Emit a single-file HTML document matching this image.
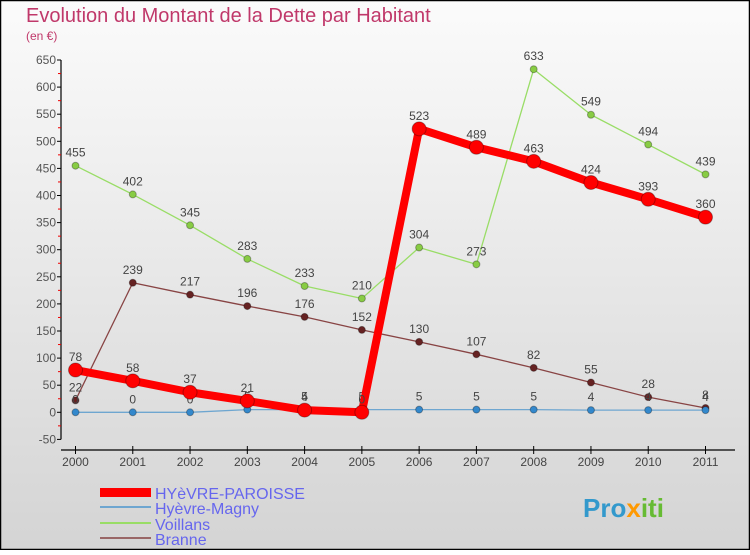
<!DOCTYPE html>
<html><head><meta charset="utf-8"><style>
html,body{margin:0;padding:0}
body{width:750px;height:550px;overflow:hidden;font-family:"Liberation Sans",sans-serif}
</style></head><body>
<svg id="chart" width="750" height="550" xmlns="http://www.w3.org/2000/svg" font-family="Liberation Sans, sans-serif">
<defs><linearGradient id="bg" x1="0" y1="0" x2="0" y2="1"><stop offset="0" stop-color="#fbfbfb"/><stop offset="1" stop-color="#d4d4d4"/></linearGradient></defs>
<rect x="0.5" y="0.5" width="749" height="549" fill="url(#bg)" stroke="#000" stroke-width="1.5"/>
<text x="26" y="22" font-size="20" fill="#c0386a">Evolution du Montant de la Dette par Habitant</text>
<text x="26" y="40" font-size="12" fill="#c0386a">(en €)</text>
<g id="axes"></g><g id="series"></g>
<g>
<rect x="100" y="488" width="51" height="9" fill="#f00"/>
<text x="155" y="499" font-size="16" fill="#6666ee">HYèVRE-PAROISSE</text>
<rect x="100" y="506" width="51" height="2" fill="#6ea6d0"/>
<text x="155" y="514" font-size="16" fill="#6666ee">Hyèvre-Magny</text>
<rect x="100" y="522" width="51" height="2" fill="#99dd66"/>
<text x="155" y="530" font-size="16" fill="#6666ee">Voillans</text>
<rect x="100" y="537" width="51" height="2" fill="#996666"/>
<text x="155" y="545" font-size="16" fill="#6666ee">Branne</text>
</g>
<text x="583" y="517" font-size="26" font-weight="bold" fill="#3399cc">Pro<tspan fill="#ff9900">x</tspan><tspan fill="#66bb33">iti</tspan></text>
</svg>
<script>
const years=[2000,2001,2002,2003,2004,2005,2006,2007,2008,2009,2010,2011];
const yTicks=[-50,0,50,100,150,200,250,300,350,400,450,500,550,600,650];
const paroisse=[78,58,37,21,4,0,523,489,463,424,393,360];
const magny=[0,0,0,5,5,5,5,5,5,4,4,4];
const voillans=[455,402,345,283,233,210,304,273,633,549,494,439];
const branne=[22,239,217,196,176,152,130,107,82,55,28,8];
const NS="http://www.w3.org/2000/svg";
const xS=i=>75.5+i*(705.5-75.5)/11;
const yS=v=>412.3-v*(412.3-60)/650;
function mk(t,a,p){const e=document.createElementNS(NS,t);for(const k in a)e.setAttribute(k,a[k]);p.appendChild(e);return e;}
const ax=document.getElementById('axes');
const yl=mk('line',{x1:61,y1:yS(650),x2:61,y2:yS(-50),stroke:'#000','stroke-width':1.2},ax);


yTicks.forEach(v=>{
 const tk=mk('line',{x1:57,y1:yS(v),x2:61,y2:yS(v),stroke:'#000'},ax);
 
 
 if(v<650){const m=mk('line',{x1:58,y1:yS(v+25),x2:61,y2:yS(v+25),stroke:'#e00'},ax);
 
 }
 const t=mk('text',{x:56,y:yS(v)+4,'text-anchor':'end','font-size':12,fill:'#555'},ax);t.textContent=v;
 
 
});
const xl=mk('line',{x1:61,y1:450,x2:735,y2:450,stroke:'#000','stroke-width':1.2},ax);


years.forEach((y,i)=>{
 const tk=mk('line',{x1:xS(i),y1:446,x2:xS(i),y2:454,stroke:'#000'},ax);
 
 
 const t=mk('text',{x:xS(i),y:466,'text-anchor':'middle','font-size':12,fill:'#444'},ax);t.textContent=y;
 
 
});
const sg=document.getElementById('series');
function series(name,vals,color,w,r,dot){
 const g=mk('g',{},sg);
 
 
 const pl=mk('polyline',{points:vals.map((v,i)=>xS(i)+','+yS(v)).join(' '),fill:'none',stroke:color,'stroke-width':w,'stroke-linejoin':'round'},g);
 
 
 vals.forEach((v,i)=>{
  const c=mk('circle',{cx:xS(i),cy:yS(v),r:r,fill:dot,stroke:'rgba(0,0,0,0.3)'},g);
  
  
  const t=mk('text',{x:xS(i),y:yS(v)-9,'text-anchor':'middle','font-size':12,fill:'#444'},g);t.textContent=v;
  
  
 });
}
series('voillans',voillans,'#99dd66',1.3,3.5,'#88cc44');
series('branne',branne,'#884444',1.3,3.5,'#662222');
series('hyevre-magny',magny,'#6ea6d0',1.3,3.5,'#3388cc');
series('hyevre-paroisse',paroisse,'#f00',8,7,'#f00');
</script>
</body></html>
